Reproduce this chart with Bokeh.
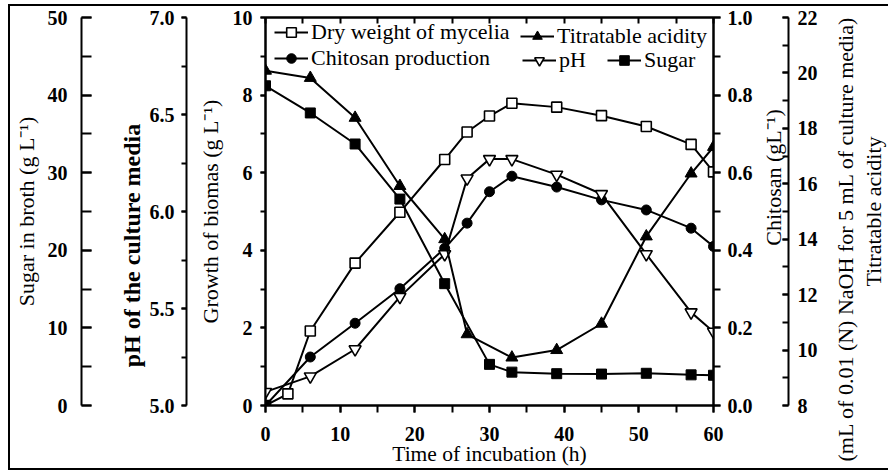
import math
from bokeh.plotting import figure
from bokeh.layouts import row
from bokeh.models import (Range1d, LinearAxis, SingleIntervalTicker, FixedTicker,
                          PrintfTickFormatter, Legend, LegendItem, Label, Title)
from bokeh.embed import file_html
from bokeh.resources import INLINE

# ---------------- data ----------------
time_dry = [0, 3, 6, 12, 18, 24, 27, 30, 33, 39, 45, 51, 57, 60]
dry_weight = [0.0, 0.3, 1.92, 3.67, 4.98, 6.34, 7.05, 7.46, 7.79, 7.69, 7.47, 7.19, 6.73, 6.02]

time_chitosan = [0, 6, 12, 18, 24, 27, 30, 33, 39, 45, 51, 57, 60]
chitosan = [0.0, 0.125, 0.212, 0.301, 0.405, 0.47, 0.551, 0.591, 0.563, 0.53, 0.504, 0.457, 0.41]

time_ph = [0, 6, 12, 18, 24, 27, 30, 33, 39, 45, 51, 57, 60]
ph = [5.07, 5.15, 5.29, 5.56, 5.78, 6.17, 6.27, 6.27, 6.19, 6.09, 5.78, 5.48, 5.38]

time_acid = [0, 6, 12, 18, 24, 27, 33, 39, 45, 51, 57, 60]
acidity = [20.08, 19.82, 18.38, 15.92, 14.0, 10.57, 9.73, 10.0, 10.95, 14.1, 16.37, 17.33]

time_sugar = [0, 6, 12, 18, 24, 30, 33, 39, 45, 51, 57, 60]
sugar = [41.2, 37.7, 33.7, 26.6, 15.7, 5.3, 4.3, 4.1, 4.05, 4.15, 3.95, 3.9]

FONT = "Liberation Serif"
H = 462                # canvas height of every panel
TOP, BOTTOM = 11, 61   # borders that put every plot frame at the same height


def bare(p):
    p.grid.visible = False
    p.outline_line_color = None
    p.background_fill_color = "white"
    p.border_fill_color = "white"
    return p


def style_axis(ax, tick_in, tick_out, standoff, label_standoff,
               label_size="22px", label_style="normal"):
    ax.axis_line_color = "black"
    ax.axis_line_width = 2
    ax.major_tick_line_color = "black"
    ax.major_tick_line_width = 2
    ax.minor_tick_line_color = "black"
    ax.minor_tick_line_width = 2
    ax.major_tick_in = tick_in
    ax.major_tick_out = tick_out
    ax.minor_tick_in = tick_in
    ax.minor_tick_out = tick_out
    ax.major_label_standoff = standoff
    ax.major_label_text_font = FONT
    ax.major_label_text_font_size = "20px"
    ax.major_label_text_font_style = "bold"
    ax.major_label_text_color = "black"
    ax.axis_label_text_font = FONT
    ax.axis_label_text_font_size = label_size
    ax.axis_label_text_font_style = label_style
    ax.axis_label_text_color = "black"
    ax.axis_label_standoff = label_standoff


def spacer(width, range_name, tick_at):
    # an empty axis whose only job is to leave a gap between two axes
    return LinearAxis(y_range_name=range_name, ticker=FixedTicker(ticks=[tick_at]),
                      axis_line_color=None, major_tick_in=0, major_tick_out=width,
                      minor_tick_in=0, minor_tick_out=0, major_tick_line_color="white",
                      major_tick_line_width=0.01, major_label_standoff=0,
                      major_label_text_color=None, major_label_text_font_size="1px")


def title_axis(text, standoff):
    # an axis drawn only for its title (no line, no ticks)
    ax = LinearAxis(ticker=FixedTicker(ticks=[]), axis_line_color=None,
                    major_tick_in=0, major_tick_out=0, minor_tick_in=0, minor_tick_out=0,
                    major_label_standoff=0, major_label_text_color=None, axis_label=text)
    ax.axis_label_text_font = FONT
    ax.axis_label_text_font_size = "22px"
    ax.axis_label_text_font_style = "normal"
    ax.axis_label_text_color = "black"
    ax.axis_label_standoff = standoff
    return ax


def side_title(text, x, y, size="22px", style="normal"):
    # rotated axis title (reads bottom-to-top), in pixels from its panel's frame corner
    return Label(x=x, y=y, x_units="screen", y_units="screen", text=text, angle=math.pi / 2,
                 text_align="center", text_baseline="middle", text_font=FONT,
                 text_font_size=size, text_font_style=style, text_color="black")


# ---------- panel 0: sugar axis + pH title ----------
p0 = bare(figure(width=136, height=H, output_backend="svg", toolbar_location=None,
                 x_range=Range1d(0, 1), y_range=Range1d(0, 50),
                 x_axis_location=None, y_axis_location="left",
                 min_border_left=67, min_border_right=0,
                 min_border_top=TOP, min_border_bottom=BOTTOM))
sugar_ax = p0.yaxis[0]
sugar_ax.ticker = SingleIntervalTicker(interval=10, num_minor_ticks=2)
sugar_ax.axis_label = "Sugar in broth (g L\u207b\u00b9)"
style_axis(sugar_ax, 10, 0, 14, 6)
p0.add_layout(side_title("pH of the culture media", 50, 160, size="24px", style="bold"))

# ---------- panel 1: the chart ----------
p = bare(figure(width=609, height=H, output_backend="svg", toolbar_location=None,
                x_range=Range1d(0, 60), y_range=Range1d(0, 10),
                min_border_left=117, min_border_right=42,
                min_border_top=TOP, min_border_bottom=BOTTOM,
                x_axis_location="below", y_axis_location="left"))
p.extra_y_ranges = {"chit": Range1d(0, 1), "acid": Range1d(8, 22),
                    "ph": Range1d(5, 7), "sugar": Range1d(0, 50)}
p.outline_line_color = "black"
p.outline_line_width = 2

xax = p.xaxis[0]
xax.ticker = SingleIntervalTicker(interval=10, num_minor_ticks=2)
xax.axis_label = "Time of incubation (h)"
style_axis(xax, 0, 7, 14, -2, label_size="21.5px")

top = LinearAxis(ticker=SingleIntervalTicker(interval=5, num_minor_ticks=0))
style_axis(top, 6, 0, 0, 0)
top.major_label_text_color = None
top.major_label_text_font_size = "1px"
p.add_layout(top, "above")

yax = p.yaxis[0]
yax.ticker = SingleIntervalTicker(interval=2, num_minor_ticks=2)
yax.axis_label = "Growth of biomas (g L\u207b\u00b9)"
style_axis(yax, 0, 5, 8, 7)

p.add_layout(spacer(8, "default", 10), "left")

ph_ax = LinearAxis(y_range_name="ph", ticker=SingleIntervalTicker(interval=0.5, num_minor_ticks=2),
                   formatter=PrintfTickFormatter(format="%.1f"))
style_axis(ph_ax, 0, 5, 7, 4)
p.add_layout(ph_ax, "left")

chit_ax = LinearAxis(y_range_name="chit", ticker=SingleIntervalTicker(interval=0.2, num_minor_ticks=2),
                     formatter=PrintfTickFormatter(format="%.1f"))
style_axis(chit_ax, 0, 7, 7, 8)
p.add_layout(chit_ax, "right")

LW = 2
l_dry = p.line(time_dry, dry_weight, line_color="black", line_width=LW)
s_dry = p.scatter(time_dry, dry_weight, marker="square", size=10, fill_color="white",
                  line_color="black", line_width=1.6)

l_chi = p.line(time_chitosan, chitosan, y_range_name="chit", line_color="black", line_width=LW)
s_chi = p.scatter(time_chitosan, chitosan, y_range_name="chit", marker="circle", size=10,
                  fill_color="black", line_color="black")

l_ph = p.line(time_ph, ph, y_range_name="ph", line_color="black", line_width=LW)
s_ph = p.scatter(time_ph, ph, y_range_name="ph", marker="inverted_triangle", size=12,
                 fill_color="white", line_color="black", line_width=1.6)

l_acid = p.line(time_acid, acidity, y_range_name="acid", line_color="black", line_width=LW)
s_acid = p.scatter(time_acid, acidity, y_range_name="acid", marker="triangle", size=12,
                   fill_color="black", line_color="black")

l_sug = p.line(time_sugar, sugar, y_range_name="sugar", line_color="black", line_width=LW)
s_sug = p.scatter(time_sugar, sugar, y_range_name="sugar", marker="square", size=10,
                  fill_color="black", line_color="black")

legend_kw = dict(label_text_font=FONT, label_text_font_size="22px", label_text_color="black",
                 glyph_width=34, glyph_height=24, label_height=24, label_standoff=3,
                 padding=0, margin=0, border_line_color=None, background_fill_alpha=0)

L1 = Legend(items=[LegendItem(label="Dry weight of mycelia", renderers=[l_dry, s_dry]),
                   LegendItem(label="Chitosan production", renderers=[l_chi, s_chi])],
            location=(9, 334), orientation="vertical", spacing=-3, **legend_kw)
L2 = Legend(items=[LegendItem(label="Titratable acidity", renderers=[l_acid, s_acid])],
            location=(255, 356), orientation="vertical", spacing=0, **legend_kw)
L3 = Legend(items=[LegendItem(label="pH", renderers=[l_ph, s_ph]),
                   LegendItem(label="Sugar", renderers=[l_sug, s_sug])],
            location=(257, 332), orientation="horizontal", spacing=21, **legend_kw)
for L in (L1, L2, L3):
    p.add_layout(L)

# ---------- panel 2: chitosan title + acidity axis ----------
p2 = bare(figure(width=65, height=H, output_backend="svg", toolbar_location=None,
                 x_range=Range1d(0, 1), y_range=Range1d(8, 22),
                 x_axis_location=None, y_axis_location="right",
                 min_border_left=0, min_border_right=32,
                 min_border_top=TOP, min_border_bottom=BOTTOM))
acid_ax = p2.yaxis[0]
acid_ax.ticker = SingleIntervalTicker(interval=2, num_minor_ticks=2)
style_axis(acid_ax, 6, 0, 9, 0)
p2.add_layout(side_title("Chitosan (gL\u207b\u00b9)", 18, 228))

# ---------- panel 3: acidity titles (read bottom-to-top) ----------
p3 = bare(figure(width=68, height=H, output_backend="svg", toolbar_location=None,
                 x_range=Range1d(0, 1), y_range=Range1d(0, 1),
                 x_axis_location=None, y_axis_location=None,
                 min_border_left=67, min_border_right=0,
                 min_border_top=TOP, min_border_bottom=BOTTOM))
p3.add_layout(title_axis("Titratable acidity", 2), "left")
p3.add_layout(Title(text="(mL of 0.01 (N) NaOH for 5 mL of culture media)", align="left",
                    offset=-56, standoff=0, text_font=FONT, text_font_size="22px",
                    text_font_style="normal", text_color="black"), "left")

layout = row(p0, p, p2, p3, spacing=0)
layout.margin = (6, 0, 0, 10)
layout.styles = {"outline": "2px solid black"}

open("out.html", "w").write(file_html(layout, INLINE))
